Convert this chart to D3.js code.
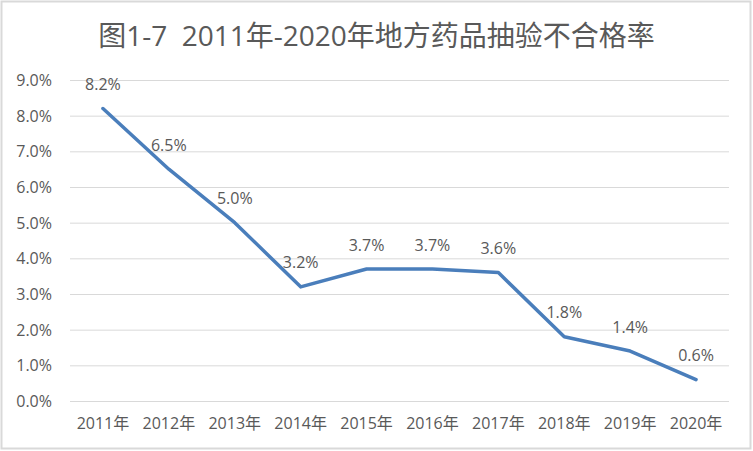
<!DOCTYPE html>
<html><head><meta charset="utf-8">
<script src="https://cdn.jsdelivr.net/npm/d3@7"></script>
<style>
html,body{margin:0;padding:0;background:#fff;}
svg{display:block;}
text{font-family:"Open Sans","Noto Sans CJK SC",sans-serif;fill:#595959;}
</style></head>
<body>
<svg id="chart" width="753" height="451"></svg>
<script>
const title = "图1-7  2011年-2020年地方药品抽验不合格率";
const categories = ["2011年","2012年","2013年","2014年","2015年","2016年","2017年","2018年","2019年","2020年"];
const values = [8.2, 6.5, 5.0, 3.2, 3.7, 3.7, 3.6, 1.8, 1.4, 0.6];
const yTicks = [0,1,2,3,4,5,6,7,8,9];

const svg = d3.select("#chart");
const W = 753, H = 451;
const plot = {left:70, right:729, top:80, bottom:401};

svg.append("rect").attr("x",1.5).attr("y",1.5).attr("width",W-4).attr("height",H-4)
  .attr("fill","#fff").attr("stroke","#d9d9d9").attr("stroke-width",2);

const x = d3.scaleBand().domain(categories).range([plot.left, plot.right]).padding(0);
const y = d3.scaleLinear().domain([0,9]).range([plot.bottom, plot.top]);

const yAxis = d3.axisLeft(y).tickValues(yTicks).tickSize(-(plot.right-plot.left)).tickPadding(18)
  .tickFormat(d => d.toFixed(1) + "%");
const gy = svg.append("g").attr("transform",`translate(${plot.left},0)`).call(yAxis);
gy.select(".domain").remove();
gy.selectAll(".tick line").attr("stroke","#d9d9d9").attr("stroke-width",1);
gy.selectAll(".tick text").attr("font-size",16).attr("dy","0.35em");

const xAxis = d3.axisBottom(x).tickSize(0).tickPadding(17);
const gx = svg.append("g").attr("transform",`translate(0,${plot.bottom})`).call(xAxis);
gx.select(".domain").remove();
gx.selectAll(".tick text").attr("font-size",16);

const line = d3.line().x((d,i)=>x(categories[i])+x.bandwidth()/2).y(d=>y(d));
svg.append("path").datum(values).attr("d",line)
  .attr("fill","none").attr("stroke","#4a7ebb").attr("stroke-width",3.5)
  .attr("stroke-linejoin","round").attr("stroke-linecap","round");

svg.append("g").selectAll("text").data(values).join("text")
  .attr("x",(d,i)=>x(categories[i])+x.bandwidth()/2)
  .attr("y",d=>y(d)-24)
  .attr("dy","0.35em")
  .attr("text-anchor","middle")
  .attr("font-size",16)
  .text(d=>d.toFixed(1)+"%");

svg.append("text").attr("x",W/2).attr("y",46).attr("text-anchor","middle")
  .attr("font-size",28).style("white-space","pre").attr("xml:space","preserve").text(title);
</script>
</body></html>
